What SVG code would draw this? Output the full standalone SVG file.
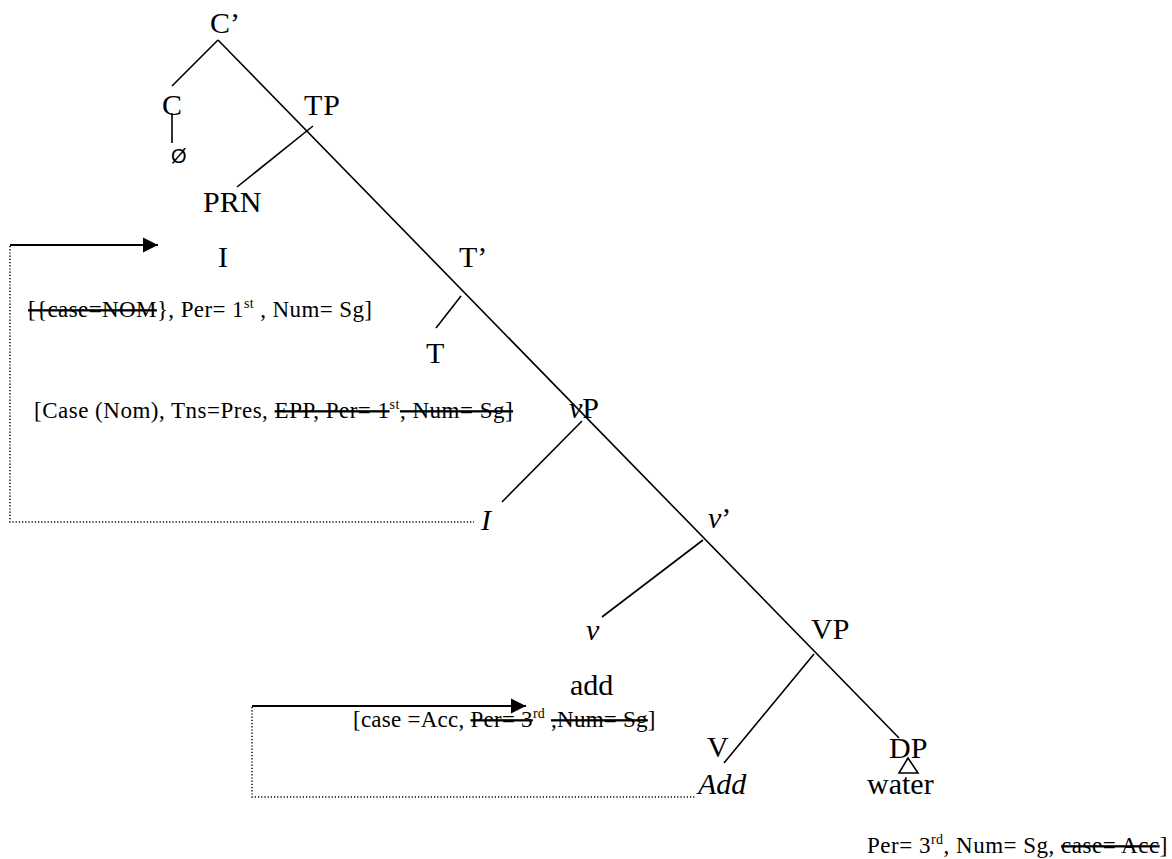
<svg xmlns="http://www.w3.org/2000/svg" width="1172" height="859" viewBox="0 0 1172 859">
<style>
.lbl{font-family:"Liberation Serif","Times New Roman",serif;font-size:30px;fill:#000}
.it{font-style:italic}
.ft{font-family:"Liberation Serif","Times New Roman",serif;font-size:23px;letter-spacing:0.25px;fill:#000}
.sup{font-size:14px}
.st{text-decoration:line-through}
.br{stroke:#000;stroke-width:1.6;fill:none}
.dot{stroke:#000;stroke-width:1.5;stroke-dasharray:1.2 2;fill:none}
.arr{stroke:#000;stroke-width:2.2;fill:none}
</style>
<defs>
<marker id="ah" markerWidth="8" markerHeight="8" refX="7" refY="3.5" orient="auto" markerUnits="strokeWidth">
<path d="M0,0 L7,3.5 L0,7 Z" fill="#000"/>
</marker>
</defs>
<rect width="1172" height="859" fill="#fff"/>
<g id="connectors">
<line class="br" x1="218" y1="40" x2="899" y2="738"/>
<line class="br" x1="218" y1="40" x2="172" y2="86"/>
<line class="br" x1="172" y1="113" x2="172" y2="143"/>
<line class="br" x1="313" y1="126" x2="237" y2="187"/>
<line class="br" x1="461" y1="296" x2="436" y2="328"/>
<line class="br" x1="582" y1="421" x2="502" y2="502"/>
<line class="br" x1="703" y1="540" x2="602" y2="617"/>
<line class="br" x1="814" y1="654" x2="724" y2="763"/>
<path class="br" d="M908,758 L899,773 L918,773 Z"/>
<line class="arr" x1="10" y1="245" x2="158" y2="245" marker-end="url(#ah)"/>
<path class="dot" d="M10,246 L10,522 L474,522"/>
<line class="arr" x1="252" y1="706" x2="526" y2="706" marker-end="url(#ah)"/>
<path class="dot" d="M252,707 L252,797 L695,797"/>
</g>
<g id="n-cbar"><text class="lbl" x="210" y="33">C’</text></g>
<g id="n-c"><text class="lbl" x="162" y="115">C</text></g>
<g id="n-null"><text x="171" y="163" style="font-family:'Liberation Sans',Arial,sans-serif;font-size:20px">Ø</text></g>
<g id="n-tp"><text class="lbl" x="304" y="115" style="letter-spacing:1px">TP</text></g>
<g id="n-prn"><text class="lbl" x="203" y="212">PRN</text></g>
<g id="n-i"><text class="lbl" x="218" y="267">I</text></g>
<g id="n-f1"><text class="ft" x="28" y="317" style="letter-spacing:0.4px"><tspan class="st">[{case=NOM</tspan>}, Per= 1<tspan class="sup" dy="-9">st</tspan><tspan dy="9"> , Num= Sg]</tspan></text></g>
<g id="n-tbar"><text class="lbl" x="459" y="267">T’</text></g>
<g id="n-t"><text class="lbl" x="426" y="363">T</text></g>
<g id="n-f2"><text class="ft" x="34" y="418" style="letter-spacing:0.5px">[Case (Nom), Tns=Pres, <tspan class="st">EPP, Per= 1</tspan><tspan class="sup" dy="-9">st</tspan><tspan class="st" dy="9">, Num= Sg]</tspan></text></g>
<g id="n-vp-small"><text class="lbl" x="569" y="418"><tspan class="it">v</tspan>P</text></g>
<g id="n-i2"><text class="lbl it" x="481" y="530">I</text></g>
<g id="n-vbar"><text class="lbl" x="708" y="528"><tspan class="it">v</tspan>’</text></g>
<g id="n-v"><text class="lbl it" x="586" y="640">v</text></g>
<g id="n-vp"><text class="lbl" x="811" y="639">VP</text></g>
<g id="n-add"><text class="lbl" x="570" y="695">add</text></g>
<g id="n-f3"><text class="ft" x="353" y="727">[case =Acc, <tspan class="st">Per= 3</tspan><tspan class="sup" dy="-9">rd</tspan><tspan dy="9"> </tspan><tspan class="st">,Num= Sg</tspan>]</text></g>
<g id="n-V"><text class="lbl" x="707" y="757">V</text></g>
<g id="n-dp"><text class="lbl" x="889" y="758">DP</text></g>
<g id="n-add2"><text class="lbl it" x="698" y="794">Add</text></g>
<g id="n-water"><text class="lbl" x="867" y="794">water</text></g>
<g id="n-f4"><text class="ft" x="867" y="853" style="letter-spacing:0.5px">Per= 3<tspan class="sup" dy="-9">rd</tspan><tspan dy="9">, Num= Sg, </tspan><tspan class="st">case= Acc</tspan>]</text></g>
</svg>
